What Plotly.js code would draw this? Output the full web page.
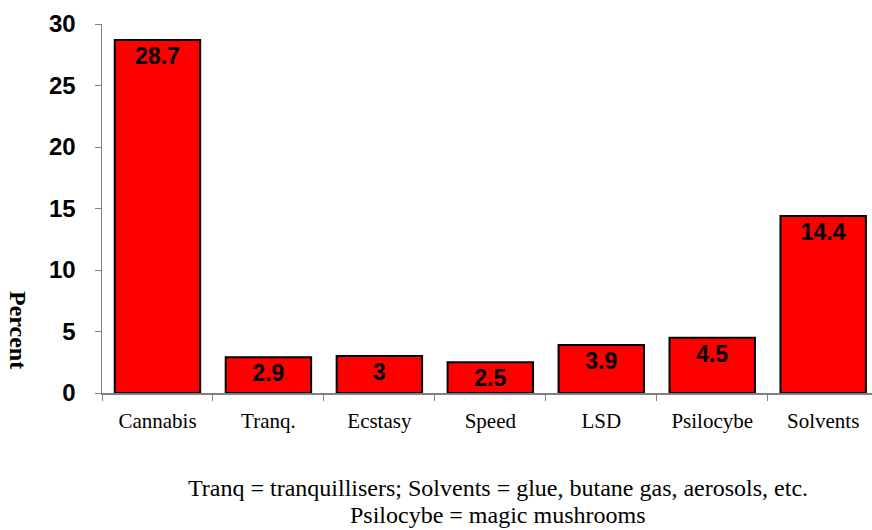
<!DOCTYPE html>
<html>
<head>
<meta charset="utf-8">
<script src="https://cdn.plot.ly/plotly-3.0.1.min.js"></script>
<style>html,body{margin:0;padding:0;background:#fff;}#chart{width:872px;height:530px;}</style>
</head>
<body>
<div id="chart"></div>
<script>
const categories = ["Cannabis", "Tranq.", "Ecstasy", "Speed", "LSD", "Psilocybe", "Solvents"];
const percentValues = [28.7, 2.9, 3, 2.5, 3.9, 4.5, 14.4];
const yTickValues = [0, 5, 10, 15, 20, 25, 30];
const yAxisLabel = "Percent";
const footnoteLines = ["Tranq = tranquillisers; Solvents = glue, butane gas, aerosols, etc.", "Psilocybe = magic mushrooms"];

const trace = {
  type: "bar",
  x: categories,
  y: percentValues,
  text: percentValues.map(String),
  textposition: "inside",
  insidetextanchor: "end",
  textangle: 0,
  constraintext: "none",
  textfont: {family: "Liberation Sans, Arial, sans-serif", size: 23, color: "#000", weight: "bold"},
  marker: {color: "#FF0000", line: {color: "#000", width: 2}},
  width: 0.77,
  hoverinfo: "none"
};

const serif = "Liberation Serif, Times New Roman, serif";
const annotations = [
  {text: yAxisLabel, xref: "paper", yref: "paper", x: -0.11, y: 0.17, xanchor: "center", yanchor: "middle",
   textangle: 90, showarrow: false,
   font: {family: serif, size: 24, color: "#000", weight: "bold"}}
];
footnoteLines.forEach(function (line, i) {
  annotations.push({text: line, xref: "paper", yref: "paper", x: 0.514, y: -0.258 - i * 0.072,
    xanchor: "center", yanchor: "middle", showarrow: false, borderpad: 0,
    font: {family: serif, size: 24, color: "#000"}});
});

const layout = {
  width: 872, height: 530,
  margin: {l: 102, r: 0, t: 24, b: 137},
  paper_bgcolor: "#fff", plot_bgcolor: "#fff",
  showlegend: false,
  xaxis: {
    type: "category",
    range: [-0.5, 6.44],
    showline: true, linecolor: "#808080", linewidth: 1.5,
    ticks: "outside", tickson: "boundaries", ticklen: 6, tickcolor: "#808080", tickwidth: 1,
    ticklabelstandoff: 8,
    tickfont: {family: serif, size: 21, color: "#000"},
    showgrid: false, zeroline: false, fixedrange: true
  },
  yaxis: {
    range: [0, 30],
    tickmode: "array", tickvals: yTickValues, ticktext: yTickValues.map(String),
    showline: true, linecolor: "#808080", linewidth: 1.5,
    ticks: "outside", ticklen: 6, tickcolor: "#808080", tickwidth: 1,
    ticklabelstandoff: 14,
    tickfont: {family: "Liberation Sans, Arial, sans-serif", size: 24, color: "#000", weight: "bold"},
    showgrid: false, zeroline: false, fixedrange: true
  },
  annotations: annotations
};

Plotly.newPlot("chart", [trace], layout, {displayModeBar: false, staticPlot: true});
</script>
</body>
</html>
